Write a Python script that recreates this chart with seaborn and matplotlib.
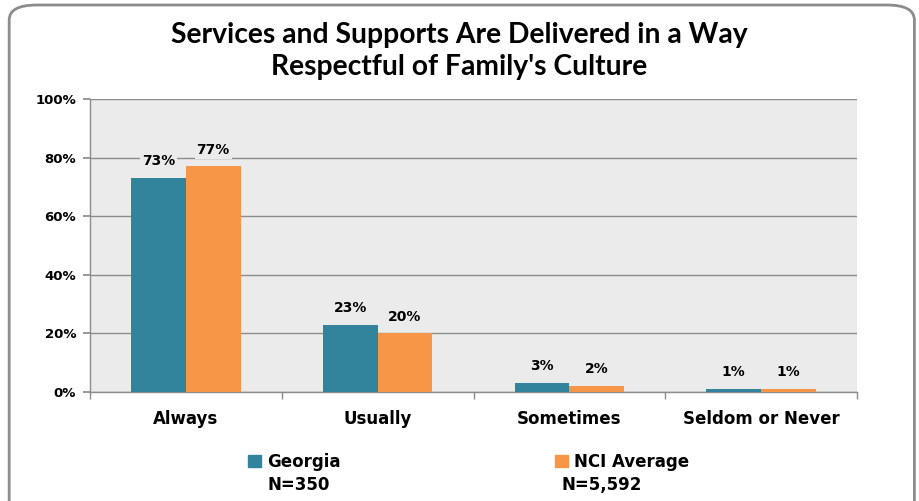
import pandas as pd
import numpy as np
import matplotlib
matplotlib.use("Agg")
import matplotlib.pyplot as plt
import seaborn as sns
from matplotlib.patches import FancyBboxPatch

# data
categories = ["Always", "Usually", "Sometimes", "Seldom or Never"]
georgia = [73, 23, 3, 1]
nci_average = [77, 20, 2, 1]
georgia_labels = ["73%", "23%", "3%", "1%"]
nci_labels = ["77%", "20%", "2%", "1%"]
series_names = ["Georgia", "NCI Average"]
series_n = ["N=350", "N=5,592"]
title = "Services and Supports Are Delivered in a Way\nRespectful of Family's Culture"

df = pd.DataFrame({
    "category": categories * 2,
    "value": georgia + nci_average,
    "series": [series_names[0]] * 4 + [series_names[1]] * 4,
})

sns.set_theme(style="white")
plt.rcParams['font.family'] = ['DejaVu Sans']
plt.rcParams['text.color'] = 'black'
plt.rcParams['xtick.color'] = 'black'
plt.rcParams['ytick.color'] = 'black'

fig = plt.figure(figsize=(9.19, 5.01), dpi=100)
ax = fig.add_axes([0.098, 0.2176, 0.8345, 0.5848])

# rounded outer frame
frame = FancyBboxPatch((0.010, -0.05), 0.985, 1.04, boxstyle="round,pad=0,rounding_size=0.03",
                       transform=fig.transFigure, facecolor="white", edgecolor="#8c8c8c",
                       linewidth=2.0, zorder=-10)
fig.patches.append(frame)

palette = {series_names[0]: "#31849B", series_names[1]: "#F79646"}
sns.barplot(data=df, x="category", y="value", hue="series", palette=palette,
            width=0.57, gap=0, saturation=1, ax=ax, zorder=3, edgecolor="none")

ax.set_facecolor("#EBEBEB")
ax.set_ylim(0, 100)
ax.set_xlim(-0.5, 3.5)
ax.set_yticks(np.arange(0, 101, 20))
ax.set_yticklabels([f"{t}%" for t in range(0, 101, 20)], fontsize=9.5, fontweight="bold")
ax.yaxis.grid(True, color="#8c8c8c", linewidth=1.0, zorder=0)
ax.set_axisbelow(True)
ax.set_xlabel("")
ax.set_ylabel("")
for lbl in ax.get_xticklabels():
    lbl.set_fontsize(12)
    lbl.set_fontweight("bold")
ax.tick_params(axis="x", which="major", length=0, pad=13)
ax.set_xticks(np.arange(-0.5, 4, 1), minor=True)
ax.tick_params(axis="x", which="minor", length=5, color="#8c8c8c", direction="out", bottom=True)
ax.tick_params(axis="y", length=5, color="#8c8c8c", labelcolor="black", direction="out",
               left=True, pad=5)
for side in ["top", "right"]:
    ax.spines[side].set_visible(False)
for side in ["left", "bottom"]:
    ax.spines[side].set_color("#8c8c8c")
    ax.spines[side].set_linewidth(1.0)

# value labels
for container, labels in zip(ax.containers, [georgia_labels, nci_labels]):
    ax.bar_label(container, labels=labels, padding=7, fontsize=10, fontweight="bold",
                 color="black", bbox=dict(facecolor="#EBEBEB", edgecolor="none", pad=1.5),
                 zorder=4)

ax.get_legend().remove()

# legend: one entry per series, with the sample size underneath
legend_x = [0.270, 0.604]
n_x = [0.325, 0.655]
for name, nlab, lx, nx in zip(series_names, series_n, legend_x, n_x):
    leg = fig.legend([plt.Rectangle((0, 0), 1, 1, color=palette[name])], [name],
                     loc="center left", bbox_to_anchor=(lx, 0.078), frameon=False,
                     prop={"size": 12, "weight": "bold"}, borderpad=0, borderaxespad=0,
                     handlelength=0.75, handleheight=0.75, handletextpad=0.4,
                     labelcolor="black")
    fig.text(nx, 0.032, nlab, ha="center", va="center", fontsize=12, fontweight="bold")

fig.text(0.5, 0.898, title, ha="center", va="center", fontsize=20.3, fontweight="bold",
         family=["Lato", "DejaVu Sans"], linespacing=1.3, color="black")

fig.savefig("out.png", dpi=100)
